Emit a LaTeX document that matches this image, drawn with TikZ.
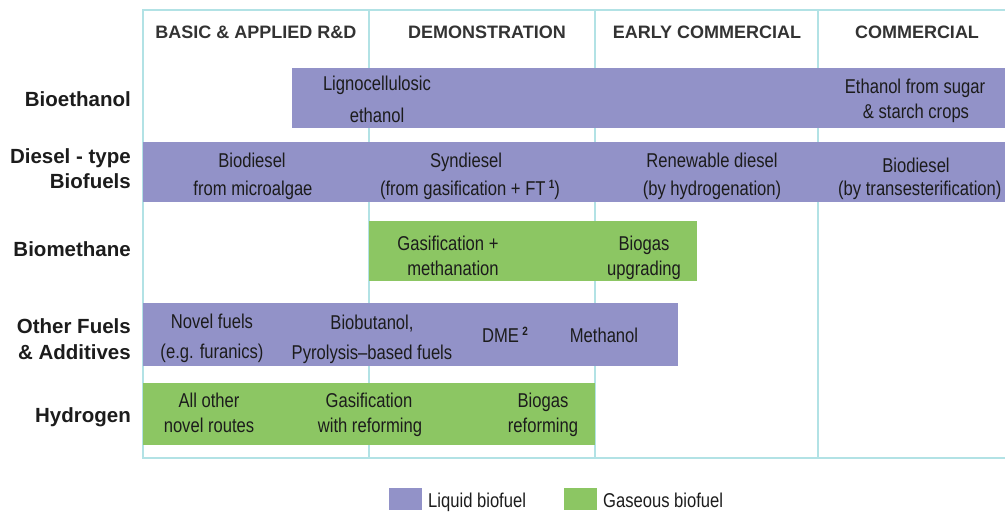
\documentclass[tikz,border=0pt]{standalone}
\usepackage{fontspec}
\setmainfont{Liberation Sans}
\newfontfamily\narrowfont[FakeStretch=0.83,Ligatures=TeX]{Liberation Sans}
\definecolor{liquid}{RGB}{146,146,200}
\definecolor{gaseous}{RGB}{140,198,99}
\definecolor{gridc}{RGB}{178,226,229}
\definecolor{ink}{RGB}{28,28,28}
\tikzset{
  bar/.style={draw=none, inner sep=0pt, anchor=north west},
  liquidbar/.style={bar, fill=liquid},
  gasbar/.style={bar, fill=gaseous},
  gridline/.style={draw=gridc, line width=2.6pt},
  txt/.style={anchor=base, inner sep=0pt, text=ink, font=\narrowfont\fontsize{20}{22}\selectfont},
  rowlabel/.style={anchor=base east, inner sep=0pt, text=ink, font=\bfseries\fontsize{20.5}{22}\selectfont},
  header/.style={anchor=base, inner sep=0pt, text=ink!90, font=\bfseries\fontsize{18}{20}\selectfont},
  legendbox/.style={inner sep=0pt, anchor=north west, minimum width=33pt, minimum height=22pt},
}
\newcommand{\supnum}[1]{\raisebox{7pt}{\fontsize{12}{12}\selectfont\bfseries #1}}
\begin{document}
\begin{tikzpicture}[x=1pt,y=-1pt]
\useasboundingbox (0,0) rectangle (1005,512);
% grid
\coordinate (gtl) at (143,10);
\coordinate (gtr) at (1005,10);
\coordinate (gbl) at (143,458);
\coordinate (gbr) at (1005,458);
\coordinate (v1t) at (369,10);
\coordinate (v1b) at (369,458);
\coordinate (v2t) at (595,10);
\coordinate (v2b) at (595,458);
\coordinate (v3t) at (818,10);
\coordinate (v3b) at (818,458);
\draw[gridline] (gtr) -- (gtl) -- (gbl) -- (gbr);
\draw[gridline] (v1t) -- (v1b);
\draw[gridline] (v2t) -- (v2b);
\draw[gridline] (v3t) -- (v3b);
% headers
\node[header] (h1) at (256,38) {BASIC \& APPLIED R\&D};
\node[header] (h2) at (487,38) {DEMONSTRATION};
\node[header] (h3) at (707,38) {EARLY COMMERCIAL};
\node[header] (h4) at (917,38) {COMMERCIAL};
% bars
\node[liquidbar, minimum width=713pt, minimum height=60pt] (bioeth) at (292,68) {};
\node[liquidbar, minimum width=862pt, minimum height=60pt] (diesel) at (143,142) {};
\node[gasbar, minimum width=328pt, minimum height=60pt] (biometh) at (369,221) {};
\node[liquidbar, minimum width=535pt, minimum height=63pt] (other) at (143,303) {};
\node[gasbar, minimum width=452pt, minimum height=62pt] (hydro) at (143,383) {};
% row labels
\node[rowlabel] (lbioeth) at (131,106) {Bioethanol};
\node[rowlabel] (ldiesel1) at (131,163) {Diesel - type};
\node[rowlabel] (ldiesel2) at (131,188) {Biofuels};
\node[rowlabel] (lbiometh) at (131,256) {Biomethane};
\node[rowlabel] (lother1) at (131,333) {Other Fuels};
\node[rowlabel] (lother2) at (131,359) {\& Additives};
\node[rowlabel] (lhydro) at (131,422) {Hydrogen};
% bioethanol texts
\node[txt] (lig1) at (377,90) {Lignocellulosic};
\node[txt] (lig2) at (377,122) {ethanol};
\node[txt] (sug1) at (915,93) {Ethanol from sugar};
\node[txt] (sug2) at (916,118) {\& starch crops};
% diesel texts
\node[txt] (alg1) at (252,167) {Biodiesel};
\node[txt] (alg2) at (253,195) {from microalgae};
\node[txt] (syn1) at (466,167) {Syndiesel};
\node[txt] (syn2) at (470,195) {(from gasification + FT\,\supnum{1})};
\node[txt] (ren1) at (712,167) {Renewable diesel};
\node[txt] (ren2) at (712,195) {(by hydrogenation)};
\node[txt] (tra1) at (916,172) {Biodiesel};
\node[txt, anchor=base west] (tra2) at (838,195) {(by transesterification)};
% biomethane texts
\node[txt] (gm1) at (448,250) {Gasification +};
\node[txt] (gm2) at (453,275) {methanation};
\node[txt] (bu1) at (644,250) {Biogas};
\node[txt] (bu2) at (644,275) {upgrading};
% other fuels texts
\node[txt] (nf1) at (212,328) {Novel fuels};
\node[txt] (nf2) at (212,358) {(e.g. furanics)};
\node[txt] (bb1) at (372,329) {Biobutanol,};
\node[txt] (bb2) at (372,359) {Pyrolysis–based fuels};
\node[txt] (dme) at (505,342) {DME\,\supnum{2}};
\node[txt] (meth) at (604,342) {Methanol};
% hydrogen texts
\node[txt] (ao1) at (209,407) {All other};
\node[txt] (ao2) at (209,432) {novel routes};
\node[txt] (gr1) at (369,407) {Gasification};
\node[txt] (gr2) at (370,432) {with reforming};
\node[txt] (br1) at (543,407) {Biogas};
\node[txt] (br2) at (543,432) {reforming};
% legend
\node[legendbox, fill=liquid] (legl) at (389,488) {};
\node[txt, anchor=base west] (legltxt) at (428,507) {Liquid biofuel};
\node[legendbox, fill=gaseous] (legg) at (564,488) {};
\node[txt, anchor=base west] (leggtxt) at (603,507) {Gaseous biofuel};
\end{tikzpicture}
\end{document}
